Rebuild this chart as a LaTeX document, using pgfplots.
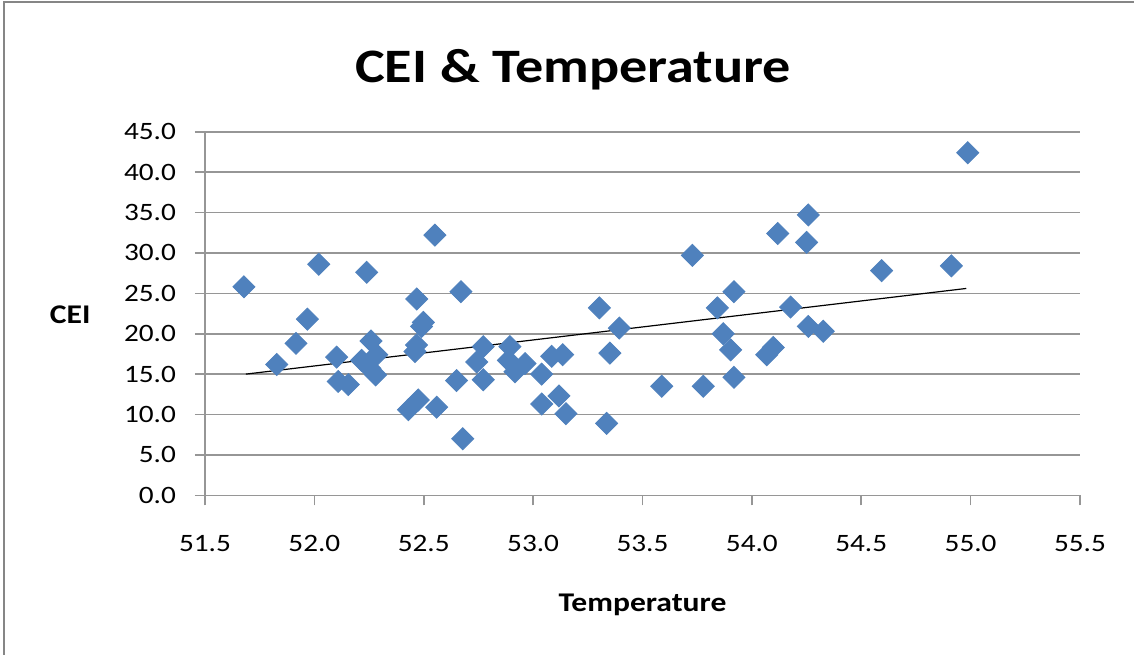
\documentclass[border=0pt]{standalone}
\usepackage{pgfplots}
\pgfplotsset{compat=1.18}
\usepackage{pgfplotstable}
\usepackage{fontspec}
\setmainfont{Carlito}[FakeStretch=1.17]
\definecolor{mkblue}{RGB}{79,129,189}
\definecolor{gridgray}{RGB}{150,150,150}
\definecolor{framegray}{RGB}{134,134,134}
\pgfplotstableread{
x y
51.678 25.8
51.828 16.2
51.916 18.8
51.968 21.8
52.020 28.6
52.102 17.1
52.109 14.1
52.155 13.7
52.216 16.7
52.239 27.6
52.254 15.7
52.259 19.1
52.280 14.9
52.285 17.4
52.430 10.6
52.460 17.8
52.467 18.6
52.468 24.3
52.475 11.8
52.490 20.9
52.498 21.4
52.551 32.2
52.559 10.9
52.650 14.2
52.670 25.2
52.678 7.0
52.742 16.5
52.772 18.4
52.772 14.3
52.887 16.7
52.894 18.4
52.917 15.3
52.963 16.3
53.039 15.0
53.039 11.3
53.085 17.2
53.118 12.3
53.135 17.4
53.150 10.1
53.303 23.2
53.336 8.9
53.351 17.6
53.394 20.7
53.588 13.5
53.728 29.7
53.778 13.5
53.842 23.2
53.869 20.0
53.903 18.0
53.918 25.2
53.918 14.6
54.068 17.4
54.098 18.3
54.118 32.4
54.177 23.3
54.250 31.3
54.258 34.7
54.258 20.9
54.326 20.3
54.593 27.8
54.912 28.4
54.987 42.4
}\ceidata
\begin{document}
\begin{tikzpicture}
\useasboundingbox (0,0) rectangle (567pt,327pt);
\fill[white] (0,0) rectangle (567pt,327pt);
\draw[framegray, line width=1pt] (2pt,-2pt) -- (2pt,326pt) -- (570pt,326pt);
\begin{axis}[
  at={(102.5pt,79.35pt)}, anchor=south west,
  scale only axis,
  width=437.5pt, height=181.8pt,
  xmin=51.5, xmax=55.5, ymin=0, ymax=45,
  xtick={51.5,52,52.5,53,53.5,54,54.5,55,55.5},
  ytick={0,5,10,15,20,25,30,35,40,45},
  axis x line=bottom, axis y line=left,
  axis line style={gridgray, line width=0.8pt, -},
  tick align=outside,
  major tick length=5pt,
  tick style={gridgray, line width=0.8pt},
  ymajorgrids,
  major grid style={gridgray, line width=0.8pt},
  clip=false,
  ticklabel style={font=\fontsize{12.5}{15}\selectfont, text=black},
  xticklabel style={yshift=-11.5pt},
  yticklabel style={xshift=-6pt},
  /pgf/number format/.cd, fixed, fixed zerofill, precision=1, assume math mode=true,
  /pgfplots/.cd,
  title={CEI \& Temperature},
  title style={at={(axis description cs:0.4206,1.178)}, yshift=-7.5pt, anchor=center, font=\fontsize{24}{28}\selectfont\bfseries},
  xlabel={Temperature},
  every axis x label/.style={at={(axis description cs:0.5,0)}, yshift=-55pt, anchor=center, font=\fontsize{13.5}{16}\selectfont\bfseries},
  ylabel={CEI},
  every axis y label/.style={at={(axis description cs:-0.154,0.496)}, anchor=center, rotate=0, font=\fontsize{13.5}{16}\selectfont\bfseries},
]
\addplot[only marks, mark=square*, mark size=3.9pt, mark options={fill=mkblue, draw=mkblue, rotate=45}] table[x=x, y=y] {\ceidata};
\addplot[black, line width=0.6pt, no marks] coordinates {(51.687,15.0) (54.98,25.6)};
\end{axis}
\end{tikzpicture}
\end{document}
